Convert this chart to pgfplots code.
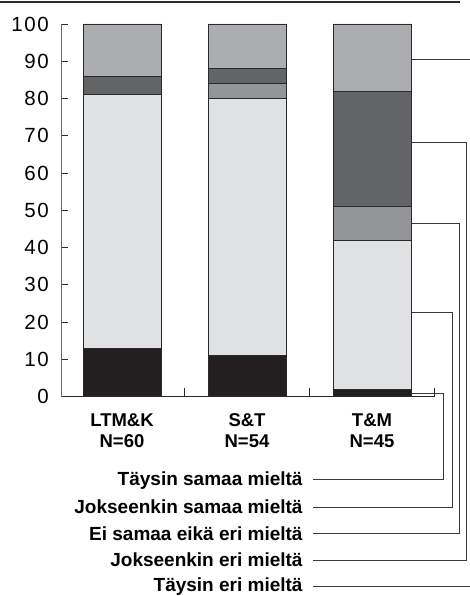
\documentclass[border=0pt]{standalone}
\usepackage{fontspec}
\setmainfont{Liberation Sans}
\newfontfamily\tickfont[LetterSpace=8]{Liberation Sans}
\usepackage{pgfplots}
\pgfplotsset{compat=1.18}
\definecolor{cBlack}{HTML}{231F20}
\definecolor{cLight}{HTML}{E0E1E3}
\definecolor{cMid}{HTML}{939598}
\definecolor{cDark}{HTML}{636466}
\definecolor{cTop}{HTML}{ACADB0}
\definecolor{cLine}{HTML}{2A2A2A}
\definecolor{cLead}{HTML}{3A3A3A}
\begin{document}
\begin{tikzpicture}[x=1pt,y=1pt]
\useasboundingbox (0,0) rectangle (469,596);
\draw[line width=1.5pt, color=cLine] (0,594) -- (460,594);
\begin{axis}[
  at={(61pt,199.3pt)}, anchor=south west,
  scale only axis, width=373pt, height=372.7pt,
  xmin=-0.488, xmax=2.496, ymin=0, ymax=100,
  clip=false,
  axis lines*=left,
  x axis line style={color=cLine, line width=0.9pt},
  y axis line style={color=gray!85!black, line width=0.9pt},
  ybar stacked, bar width=0.624,
  ytick={0,10,...,100},
  tick align=inside,
  major tick length=7pt,
  ytick style={color=cLine, line width=0.8pt},
  xtick={0,1,2},
  xtick style={draw=none},
  xticklabels={{LTM\&K\\N=60},{S\&T\\N=54},{T\&M\\N=45}},
  xticklabel style={align=center, anchor=north, inner sep=0pt, yshift=-16.3pt,
    font=\bfseries\fontsize{18.5}{21}\selectfont},
  yticklabel style={anchor=east, inner sep=0pt, xshift=-12pt,
    font=\tickfont\fontsize{20.5}{25}\selectfont},
  /pgf/number format/assume math mode=true,
]
\addplot[fill=cBlack, draw=cLine, line width=0.9pt] coordinates {(0,13) (1,11) (2,2)};
\addplot[fill=cLight, draw=cLine, line width=0.9pt] coordinates {(0,68) (1,69) (2,40)};
\addplot[fill=cMid, draw=cLine, line width=0.9pt] coordinates {(0,0) (1,4) (2,9)};
\addplot[fill=cDark, draw=cLine, line width=0.9pt] coordinates {(0,5) (1,4) (2,31)};
\addplot[fill=cTop, draw=cLine, line width=0.9pt] coordinates {(0,14) (1,12) (2,18)};

\draw[cLine, line width=0.8pt] (axis cs:0.5,0) -- (axis cs:0.5,2.3);
\draw[cLine, line width=0.8pt] (axis cs:1.5,0) -- (axis cs:1.5,2.3);
\draw[cLine, line width=0.8pt] (axis cs:2.496,0) -- (axis cs:2.496,2.3);

\draw[cLead, line width=0.8pt] (axis cs:2.312,0.9) -- (axis cs:2.568,0.9) -- (axis cs:2.568,-22.2) -- (axis cs:1.528,-22.2);
\draw[cLead, line width=0.8pt] (axis cs:2.312,22.7) -- (axis cs:2.64,22.7) -- (axis cs:2.64,-29.6) -- (axis cs:1.528,-29.6);
\draw[cLead, line width=0.8pt] (axis cs:2.312,46.6) -- (axis cs:2.696,46.6) -- (axis cs:2.696,-36.8) -- (axis cs:1.528,-36.8);
\draw[cLead, line width=0.8pt] (axis cs:2.312,68.1) -- (axis cs:2.758,68.1) -- (axis cs:2.758,-43.8) -- (axis cs:1.528,-43.8);
\draw[cLead, line width=0.8pt] (axis cs:2.312,90.6) -- (axis cs:2.78,90.6);
\draw[cLead, line width=0.8pt] (axis cs:1.528,-50.8) -- (axis cs:2.78,-50.8);

\node[anchor=base east, inner sep=0pt, yshift=-6.5pt, font=\bfseries\fontsize{19}{22}\selectfont] at (axis cs:1.446,-22.2) {Täysin samaa mieltä};
\node[anchor=base east, inner sep=0pt, yshift=-6.5pt, font=\bfseries\fontsize{19}{22}\selectfont] at (axis cs:1.446,-29.6) {Jokseenkin samaa mieltä};
\node[anchor=base east, inner sep=0pt, yshift=-6.5pt, font=\bfseries\fontsize{19}{22}\selectfont] at (axis cs:1.446,-36.8) {Ei samaa eikä eri mieltä};
\node[anchor=base east, inner sep=0pt, yshift=-6.5pt, font=\bfseries\fontsize{19}{22}\selectfont] at (axis cs:1.446,-43.8) {Jokseenkin eri mieltä};
\node[anchor=base east, inner sep=0pt, yshift=-5pt, font=\bfseries\fontsize{19}{22}\selectfont] at (axis cs:1.446,-50.8) {Täysin eri mieltä};
\end{axis}
\end{tikzpicture}
\end{document}
